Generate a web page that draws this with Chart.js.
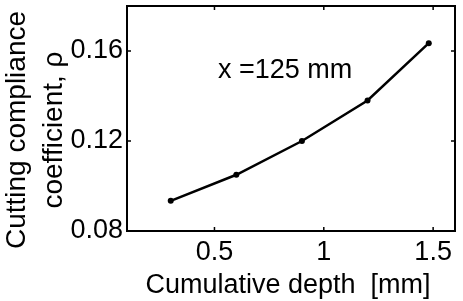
<!DOCTYPE html>
<html>
<head>
<meta charset="utf-8">
<script src="https://cdn.jsdelivr.net/npm/chart.js@4.4.0/dist/chart.umd.min.js"></script>
<style>
  html, body { margin: 0; padding: 0; background: #fff; }
  #wrap { width: 463px; height: 301px; }
</style>
</head>
<body>
<div id="wrap"><canvas id="chart" width="463" height="301"></canvas></div>
<script>
// values
const depth = [0.3, 0.6, 0.9, 1.2, 1.48];
const rho = [0.0934, 0.105, 0.12, 0.138, 0.1635];
const xTicks = [0.5, 1, 1.5];
const yTicks = [0.08, 0.12, 0.16];
const xTitle = 'Cumulative depth  [mm]';
const yTitle = ['Cutting compliance', 'coefficient, \u03C1'];
const note = 'x =125 mm';

const font = '"Liberation Sans", Arial, sans-serif';

// frame with inward ticks on all four sides, plus titles and the note
const framePlugin = {
    id: 'frame',
    afterDraw(chart) {
        const { ctx, chartArea: a, scales } = chart;
        ctx.save();
        ctx.strokeStyle = '#000';
        ctx.lineWidth = 2;
        ctx.strokeRect(a.left, a.top, a.right - a.left, a.bottom - a.top);

        ctx.lineWidth = 1.5;
        ctx.beginPath();
        scales.x.ticks.forEach(t => {
            const px = scales.x.getPixelForValue(t.value);
            ctx.moveTo(px, a.bottom); ctx.lineTo(px, a.bottom - 4);
            ctx.moveTo(px, a.top); ctx.lineTo(px, a.top + 4);
        });
        scales.y.ticks.forEach(t => {
            const py = scales.y.getPixelForValue(t.value);
            ctx.moveTo(a.left, py); ctx.lineTo(a.left + 4, py);
            ctx.moveTo(a.right, py); ctx.lineTo(a.right - 4, py);
        });
        ctx.stroke();

        ctx.fillStyle = '#000';
        ctx.font = '27px ' + font;
        ctx.textAlign = 'center';
        ctx.textBaseline = 'alphabetic';
        ctx.fillText(xTitle, 288, 293);

        ctx.textAlign = 'left';
        ctx.fillText(note, 218, 78);

        ctx.font = '28px ' + font;
        ctx.textAlign = 'center';
        [25, 62].forEach((bx, i) => {
            ctx.save();
            ctx.translate(bx, 130);
            ctx.rotate(-Math.PI / 2);
            ctx.fillText(yTitle[i], 0, 0);
            ctx.restore();
        });
        ctx.restore();
    }
};

new Chart(document.getElementById('chart').getContext('2d'), {
    type: 'scatter',
    data: {
        datasets: [{
            data: depth.map((d, i) => ({ x: d, y: rho[i] })),
            showLine: true,
            borderColor: '#000',
            backgroundColor: '#000',
            borderWidth: 2.5,
            pointRadius: 3,
            pointBorderWidth: 0
        }]
    },
    options: {
        responsive: false,
        animation: false,
        layout: { padding: { top: 6, right: 8, left: 0, bottom: 0 } },
        plugins: {
            legend: { display: false },
            tooltip: { enabled: false }
        },
        scales: {
            x: {
                type: 'linear',
                min: 0.1,
                max: 1.6,
                afterBuildTicks(s) { s.ticks = xTicks.map(v => ({ value: v })); },
                afterFit(s) { s.height = 70; s.paddingLeft = 0; s.paddingRight = 0; },
                grid: { display: false, drawTicks: false },
                border: { display: false },
                ticks: {
                    color: '#000',
                    padding: 5,
                    maxRotation: 0,
                    font: { family: font, size: 27 },
                    callback: v => String(v)
                }
            },
            y: {
                type: 'linear',
                min: 0.08,
                max: 0.18,
                afterBuildTicks(s) { s.ticks = yTicks.map(v => ({ value: v })); },
                afterFit(s) { s.width = 127; s.paddingTop = 0; s.paddingBottom = 0; },
                grid: { display: false, drawTicks: false },
                border: { display: false },
                ticks: {
                    color: '#000',
                    padding: 4,
                    font: { family: font, size: 27 },
                    callback: v => v.toFixed(2)
                }
            }
        }
    },
    plugins: [framePlugin]
});
</script>
</body>
</html>
